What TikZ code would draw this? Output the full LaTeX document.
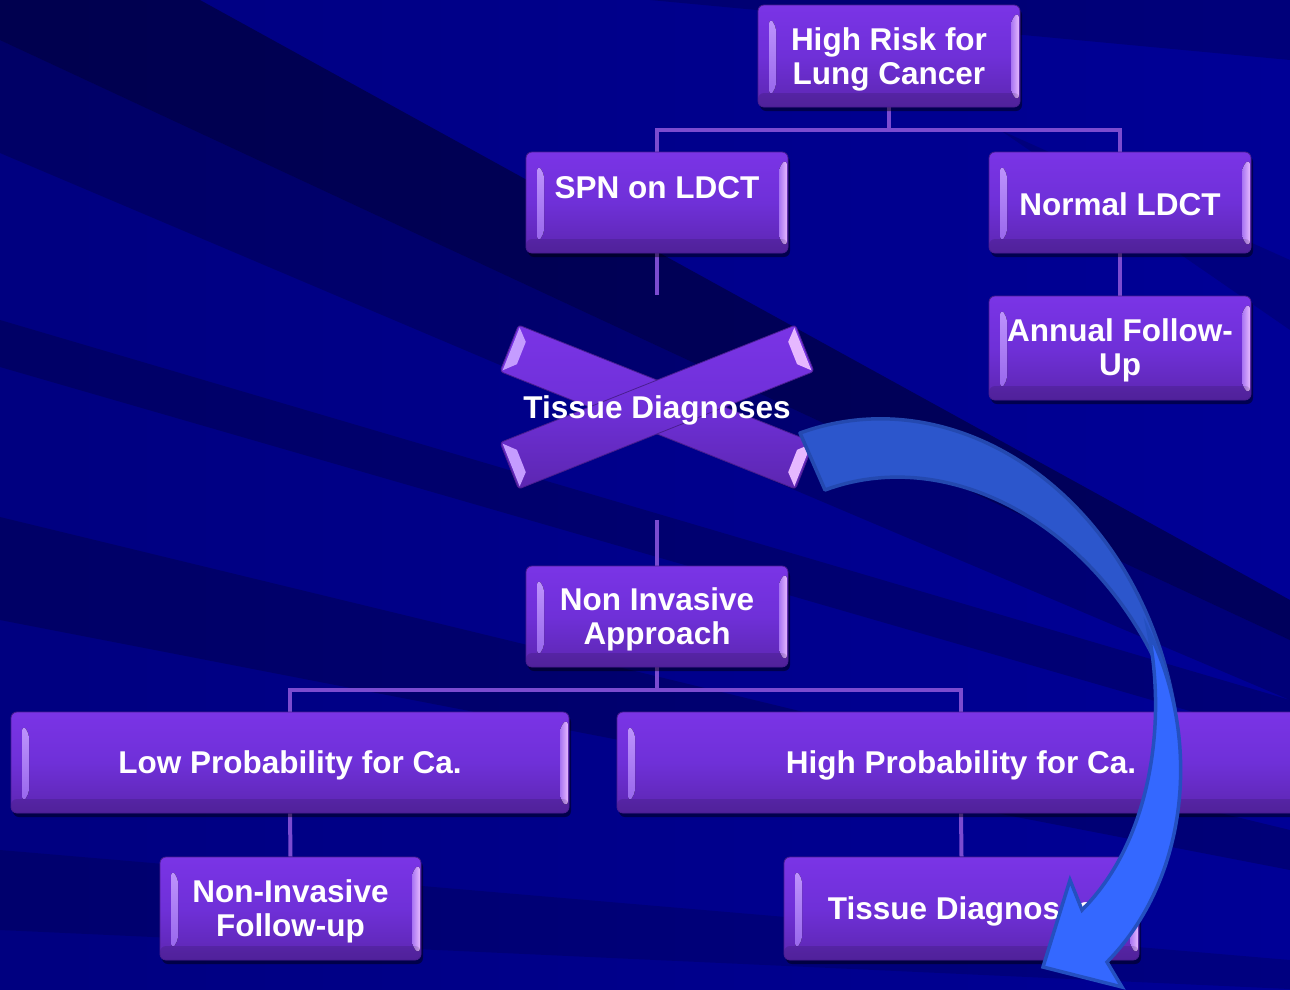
\documentclass[tikz,border=0pt]{standalone}
\usepackage{fontspec}
\setmainfont{Liberation Sans}
\usetikzlibrary{shadows}
\definecolor{bgL}{RGB}{0,0,128}
\definecolor{bgR}{RGB}{0,0,150}
\definecolor{boxtop}{HTML}{7A34E6}
\definecolor{boxmid}{HTML}{6F30D8}
\definecolor{boxbot}{HTML}{5C26B0}
\definecolor{boxedge}{HTML}{4A1E90}
\definecolor{bevLa}{HTML}{C59CFF}
\definecolor{bevLb}{HTML}{9260EA}
\definecolor{bevRa}{HTML}{A774F2}
\definecolor{bevRb}{HTML}{E6B8FF}
\definecolor{linkc}{HTML}{7B4BD0}
\definecolor{arrDf}{HTML}{2C56CC}
\definecolor{arrDe}{HTML}{2449B0}
\definecolor{arrBf}{HTML}{3468FF}
\definecolor{arrBe}{HTML}{2450C0}
\newcommand\boxfont{\fontsize{31.5}{34}\selectfont\bfseries}
\pgfdeclarelayer{bgl}
\pgfdeclarelayer{lines}
\pgfsetlayers{bgl,lines,main}
\tikzset{
  pbox/.style={rectangle, rounded corners=6pt, draw=boxedge, line width=0.8pt,
    top color=boxtop, bottom color=boxbot, middle color=boxmid,
    inner sep=0pt,
    drop shadow={shadow xshift=2pt,shadow yshift=-4pt,opacity=0.45,fill=black},
    path picture={
      \fill[top color=bevLa, bottom color=bevLb]
        ([xshift=11pt,yshift=-13pt]path picture bounding box.north west) --
        ([xshift=18pt,yshift=-20pt]path picture bounding box.north west) --
        ([xshift=18pt,yshift=18pt]path picture bounding box.south west) --
        ([xshift=11pt,yshift=11pt]path picture bounding box.south west) -- cycle;
      \fill[left color=bevRa, right color=bevRb]
        ([xshift=-1pt,yshift=-7pt]path picture bounding box.north east) --
        ([xshift=-9pt,yshift=-14pt]path picture bounding box.north east) --
        ([xshift=-9pt,yshift=13pt]path picture bounding box.south east) --
        ([xshift=-1pt,yshift=6pt]path picture bounding box.south east) -- cycle;
      \fill[black, opacity=0.12]
        ([yshift=14pt]path picture bounding box.south west) rectangle
        (path picture bounding box.south east);
    }},
  txt/.style={text=white, font=\boxfont, align=center, inner sep=0pt},
  link/.style={draw=linkc, line width=4pt},
  bar/.style={top color=boxtop, bottom color=boxbot, middle color=boxmid, draw=boxedge, line width=0.8pt, rounded corners=3pt},
  barend/.style={fill=bevLa},
  barendR/.style={fill=bevRb},
  band/.style={fill=black, opacity=#1},
}
\begin{document}
\begin{tikzpicture}[x=1pt,y=-1pt]
\useasboundingbox (0,0) rectangle (1290,989);
\clip (0,0) rectangle (1290,989);

% background
\begin{pgfonlayer}{bgl}
\fill[left color=bgL, right color=bgR] (0,0) rectangle (1290,989);
\fill[band=0.38] (200,0) -- (1290,600) -- (1290,640) -- (0,40) -- (0,0) -- cycle;
\fill[band=0.2] (0,40) -- (1290,640) -- (1290,700) -- (0,153) -- cycle;
\fill[band=0.2] (0,320) -- (1290,700) -- (1290,740) -- (0,367) -- cycle;
\fill[band=0.2] (0,517) -- (1290,830) -- (1290,870) -- (0,620) -- cycle;
\fill[band=0.14] (0,850) -- (1290,960) -- (1290,989) -- (0,930) -- cycle;
\fill[band=0.18] (650,0) -- (1290,0) -- (1290,60) -- cycle;
\fill[band=0.14] (1000,130) -- (1290,260) -- (1290,330) -- cycle;
\end{pgfonlayer}

% boxes
\node[pbox, minimum width=262pt, minimum height=102pt] (hr) at (889,56) {};
\node[txt] (hrt) at ([yshift=-3pt]hr.center) {High Risk for\\Lung Cancer};
\node[pbox, minimum width=262pt, minimum height=101pt] (spn) at (657,202.5) {};
\node[txt] (spnt) at (657,188) {SPN on LDCT};
\node[pbox, minimum width=262pt, minimum height=101pt] (nl) at (1120,202.5) {};
\node[txt] (nlt) at ([yshift=-2pt]nl.center) {Normal LDCT};
\node[pbox, minimum width=262pt, minimum height=104pt] (af) at (1120,348) {};
\node[txt] (aft) at ([yshift=-2pt]af.center) {Annual Follow-\\Up};

% X shape
\begin{scope}[shift={(657,407)}, rotate=-21.7]
  \draw[bar] (-159,-25) rectangle (159,25);
  \fill[barend] (-157,-23) -- (-146,-12) -- (-146,12) -- (-157,23) -- cycle;
  \fill[barendR] (157,-23) -- (146,-12) -- (146,12) -- (157,23) -- cycle;
\end{scope}
\begin{scope}[shift={(657,407)}, rotate=21.7]
  \draw[bar] (-159,-25) rectangle (159,25);
  \fill[barend] (-157,-23) -- (-146,-12) -- (-146,12) -- (-157,23) -- cycle;
  \fill[barendR] (157,-23) -- (146,-12) -- (146,12) -- (157,23) -- cycle;
\end{scope}
\node[txt] (tdx) at (657,410) {Tissue Diagnoses};

\node[pbox, minimum width=262pt, minimum height=101pt] (nia) at (657,616.5) {};
\node[txt] (niat) at ([yshift=-3pt]nia.center) {Non Invasive\\Approach};
\node[pbox, minimum width=558pt, minimum height=101pt] (low) at (290,762.5) {};
\node[txt] (lowt) at ([yshift=-3pt]low.center) {Low Probability for Ca.};
\node[pbox, minimum width=688pt, minimum height=101pt] (high) at (961,762.5) {};
\node[txt] (hight) at ([yshift=-3pt]high.center) {High Probability for Ca.};
\node[pbox, minimum width=261pt, minimum height=103pt] (nif) at (290.5,908.5) {};
\node[txt] (nift) at ([yshift=-3pt]nif.center) {Non-Invasive\\Follow-up};
\node[pbox, minimum width=355pt, minimum height=103pt] (td) at (961.5,908.5) {};
\node[txt] (tdt) at ([yshift=-3pt]td.center) {Tissue Diagnoses};

\coordinate (c1) at (657,295);
\coordinate (c2) at (657,520);

% connectors
\begin{pgfonlayer}{lines}
\draw[link] (hr.south) -- ++(0,23) -| (spn.north);
\draw[link] (hr.south) -- ++(0,23) -| (nl.north);
\draw[link] (nl.south) -- (af.north);
\draw[link] (spn.south) -- (c1);
\draw[link] (c2) -- (nia.north);
\draw[link] (nia.south) -- ++(0,23) -| (low.north);
\draw[link] (nia.south) -- ++(0,23) -| (high.north);
\draw[link] (low.south) -- (nif.north);
\draw[link] (high.south) -- (td.north);
\end{pgfonlayer}

% curved arrow
\filldraw[fill=arrDf, draw=arrDe, line width=3.5pt, line join=round]
  (800,433) .. controls (960,375) and (1140,500) .. (1175,710)
  .. controls (1120,540) and (960,440) .. (825,490) -- cycle;
\filldraw[fill=arrBf, draw=arrBe, line width=3.5pt, line join=miter]
  (1148,630) .. controls (1203,740) and (1188,880) .. (1107,962)
  -- (1122,987) -- (1043,967) -- (1070,880) -- (1082,910)
  .. controls (1152,840) and (1167,720) .. (1148,630) -- cycle;
\end{tikzpicture}
\end{document}
